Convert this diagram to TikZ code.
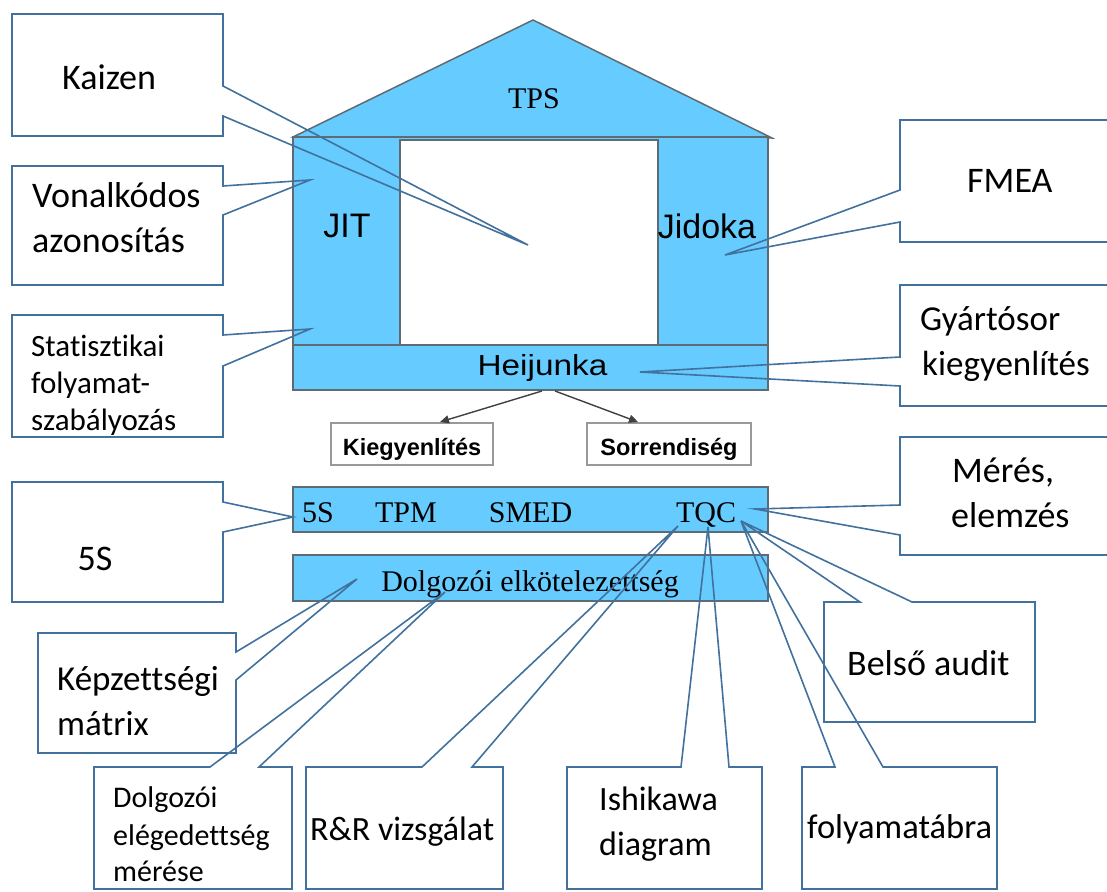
\documentclass[tikz,border=0pt]{standalone}
\usepackage{fontspec}
\setmainfont{Carlito}[Ligatures={NoCommon}]
\newfontfamily\arialf{Liberation Sans}
\newfontfamily\timesf{Liberation Serif}
\usetikzlibrary{arrows.meta,calc}
\definecolor{hblue}{HTML}{66CCFF}
\definecolor{hline}{HTML}{5F6B73}
\definecolor{cline}{HTML}{41719C}
\newcommand{\myfs}[1]{\fontsize{#1}{#1}\selectfont}
\begin{document}
\begin{tikzpicture}[x=1pt,y=-1pt,
  callout/.style={draw=cline, line width=1.6pt, line join=miter},
  cbox/.style={inner sep=0pt, outer sep=0pt},
  lbl/.style={inner sep=0pt, anchor=base west, font=\myfs{36}},
  bar/.style={fill=hblue, draw=hline, line width=1.2pt, inner sep=0pt, outer sep=0pt, minimum width=475pt},
  hbox/.style={fill=white, draw=gray!80, line width=1.2pt, inner sep=0pt, outer sep=0pt, minimum width=162pt, minimum height=42pt, text height=24pt, text depth=2pt, font=\arialf\bfseries\myfs{23.5}},
  harrow/.style={draw=black!75, line width=1.4pt, -{Triangle[length=9pt,width=8pt]}},
  htxt/.style={inner sep=0pt, anchor=base}]
\useasboundingbox (0,0) rectangle (1107,891);
\clip (0,0) rectangle (1107,891);
% ---------- house ----------
\filldraw[fill=hblue, draw=hline, line width=1.5pt, line join=miter] (293,137) -- (533,20) -- (772,138) -- cycle;
\filldraw[fill=hblue, draw=hline, line width=1.2pt] (293,137) rectangle (768,345);
\filldraw[fill=white, draw=hline, line width=1.2pt] (400,140) rectangle (658,345);
\node[bar, minimum height=45pt] (heijbar) at (530.5,367.5) {};
\node[htxt, font=\timesf\myfs{30}] (tps) at (534,108) {TPS};
\node[htxt, font=\arialf\myfs{34}] (jit) at (347,237) {JIT};
\node[htxt, font=\arialf\myfs{34}] (jidoka) at (707,238) {Jidoka};
\node[htxt, font=\arialf\myfs{29}, xscale=1.15] (heijunka) at (542.5,375) {Heijunka};
\node[hbox] (kieg) at (412,444) {Kiegyenlítés};
\node[hbox, minimum width=164pt] (sorr) at (669,444) {Sorrendiség};
\draw[harrow] ($(heijbar.south)+(11.5,1)$) -- ($(kieg.north)+(28,-1)$);
\draw[harrow] ($(heijbar.south)+(24.5,1)$) -- ($(sorr.north)+(-31,-1)$);
\node[bar, minimum height=45pt] (fivebar) at (530.5,509.5) {};
\node[htxt, font=\timesf\myfs{30}] (t5s) at (318,522) {5S};
\node[htxt, font=\timesf\myfs{30}] (ttpm) at (406,522) {TPM};
\node[htxt, font=\timesf\myfs{30}] (tsmed) at (530.5,522) {SMED};
\node[htxt, font=\timesf\myfs{30}] (ttqc) at (706,522) {TQC};
\node[bar, minimum height=46pt] (dolgbar) at (530.5,578) {};
\node[htxt, font=\timesf\myfs{30}] (tdolg) at (530,591) {Dolgozói elkötelezettség};
% ---------- tips ----------
\coordinate (kaizenT) at (528,245);
\coordinate (vonalT) at (310,180);
\coordinate (statT) at (310,329);
\coordinate (s5T) at (293,517);
\coordinate (kepzT) at (357,579);
\coordinate (dolgT) at (445,592);
\coordinate (rrT) at (678,526);
\coordinate (ishiT) at (708,527);
\coordinate (qcT) at (741,521);
\coordinate (meresT) at (755,509);
\coordinate (fmeaT) at (725,255);
\coordinate (gyarT) at (640,372);
% ---------- callout boxes ----------
\node[cbox, minimum width=211pt, minimum height=122pt] (kaizen) at (117.5,75) {};
\node[cbox, minimum width=211pt, minimum height=119pt] (vonal) at (117.5,225.5) {};
\node[cbox, minimum width=211pt, minimum height=122pt] (stat) at (117.5,376) {};
\node[cbox, minimum width=211pt, minimum height=120pt] (s5) at (117.5,542) {};
\node[cbox, minimum width=198pt, minimum height=120pt] (kepz) at (137,693) {};
\node[cbox, minimum width=198pt, minimum height=122pt] (dolg) at (193,828) {};
\node[cbox, minimum width=197pt, minimum height=122pt] (rr) at (404.5,828) {};
\node[cbox, minimum width=195pt, minimum height=122pt] (ishi) at (664.5,828) {};
\node[cbox, minimum width=195pt, minimum height=122pt] (foly) at (899.5,828) {};
\node[cbox, minimum width=211pt, minimum height=120pt] (belso) at (929.5,662) {};
\node[cbox, minimum width=220pt, minimum height=118pt] (meres) at (1010,496) {};
\node[cbox, minimum width=220pt, minimum height=122pt] (fmea) at (1010,181) {};
\node[cbox, minimum width=220pt, minimum height=121pt] (gyar) at (1010,345.5) {};
% right-pointing callouts
\draw[callout] (kaizen.north west) -- (kaizen.north east) -- (kaizen.north east |- 0,86) -- (kaizenT) -- (kaizen.north east |- 0,116) -- (kaizen.south east) -- (kaizen.south west) -- cycle;
\draw[callout] (vonal.north west) -- (vonal.north east) -- (vonal.north east |- 0,186) -- (vonalT) -- (vonal.north east |- 0,215) -- (vonal.south east) -- (vonal.south west) -- cycle;
\draw[callout] (stat.north west) -- (stat.north east) -- (stat.north east |- 0,335) -- (statT) -- (stat.north east |- 0,366) -- (stat.south east) -- (stat.south west) -- cycle;
\draw[callout] (s5.north west) -- (s5.north east) -- (s5.north east |- 0,502) -- (s5T) -- (s5.north east |- 0,532) -- (s5.south east) -- (s5.south west) -- cycle;
\draw[callout] (kepz.north west) -- (kepz.north east) -- (kepz.north east |- 0,652) -- (kepzT) -- (kepz.north east |- 0,680) -- (kepz.south east) -- (kepz.south west) -- cycle;
% top-pointing callouts
\draw[callout] (dolg.north west) -- (210,0 |- dolg.north) -- (dolgT) -- (259,0 |- dolg.north) -- (dolg.north east) -- (dolg.south east) -- (dolg.south west) -- cycle;
\draw[callout] (rr.north west) -- (422,0 |- rr.north) -- (rrT) -- (472,0 |- rr.north) -- (rr.north east) -- (rr.south east) -- (rr.south west) -- cycle;
\draw[callout] (ishi.north west) -- (681,0 |- ishi.north) -- (ishiT) -- (729,0 |- ishi.north) -- (ishi.north east) -- (ishi.south east) -- (ishi.south west) -- cycle;
\draw[callout] (foly.north west) -- (835,0 |- foly.north) -- (qcT) -- (883,0 |- foly.north) -- (foly.north east) -- (foly.south east) -- (foly.south west) -- cycle;
\draw[callout] (belso.north west) -- (860,0 |- belso.north) -- (qcT) -- (912,0 |- belso.north) -- (belso.north east) -- (belso.south east) -- (belso.south west) -- cycle;
% left-pointing callouts
\draw[callout] (meres.north east) -- (meres.north west) -- (meres.north west |- 0,505) -- (meresT) -- (meres.north west |- 0,535) -- (meres.south west) -- (meres.south east);
\draw[callout] (fmea.north east) -- (fmea.north west) -- (fmea.north west |- 0,190) -- (fmeaT) -- (fmea.north west |- 0,222) -- (fmea.south west) -- (fmea.south east);
\draw[callout] (gyar.north east) -- (gyar.north west) -- (gyar.north west |- 0,357) -- (gyarT) -- (gyar.north west |- 0,386) -- (gyar.south west) -- (gyar.south east);
% ---------- callout texts ----------
\node[lbl] (kaizenL) at (62,89) {Kaizen};
\node[lbl] (vonalL1) at (32,207) {Vonalkódos};
\node[lbl] (vonalL2) at (32,252) {azonosítás};
\node[lbl, font=\myfs{31}] (statL1) at (31,356) {Statisztikai};
\node[lbl, font=\myfs{31}] (statL2) at (31,393) {folyamat-};
\node[lbl, font=\myfs{31}] (statL3) at (31,430) {szabályozás};
\node[lbl, anchor=base] (s5L) at (95,570) {5S};
\node[lbl, font=\myfs{35}] (kepzL1) at (57,690) {Képzettségi};
\node[lbl, font=\myfs{35}] (kepzL2) at (57,735) {mátrix};
\node[lbl, font=\myfs{30}] (dolgL1) at (113,807) {Dolgozói};
\node[lbl, font=\myfs{30}] (dolgL2) at (113,845) {elégedettség};
\node[lbl, font=\myfs{30}] (dolgL3) at (113,881) {mérése};
\node[lbl, font=\myfs{34}] (rrL) at (310,840) {R\&R vizsgálat};
\node[lbl, font=\myfs{34}] (ishiL1) at (599,810) {Ishikawa};
\node[lbl, font=\myfs{34}] (ishiL2) at (599,855) {diagram};
\node[lbl, font=\myfs{34.5}] (folyL) at (807,838) {folyamatábra};
\node[lbl] (belsoL) at (847,675) {Belső audit};
\node[lbl] (meresL1) at (952,482) {Mérés,};
\node[lbl] (meresL2) at (951,527) {elemzés};
\node[lbl] (fmeaL) at (967,192) {FMEA};
\node[lbl, font=\myfs{35}] (gyarL1) at (920,330) {Gyártósor};
\node[lbl, font=\myfs{35}] (gyarL2) at (922,375) {kiegyenlítés};
\end{tikzpicture}
\end{document}
